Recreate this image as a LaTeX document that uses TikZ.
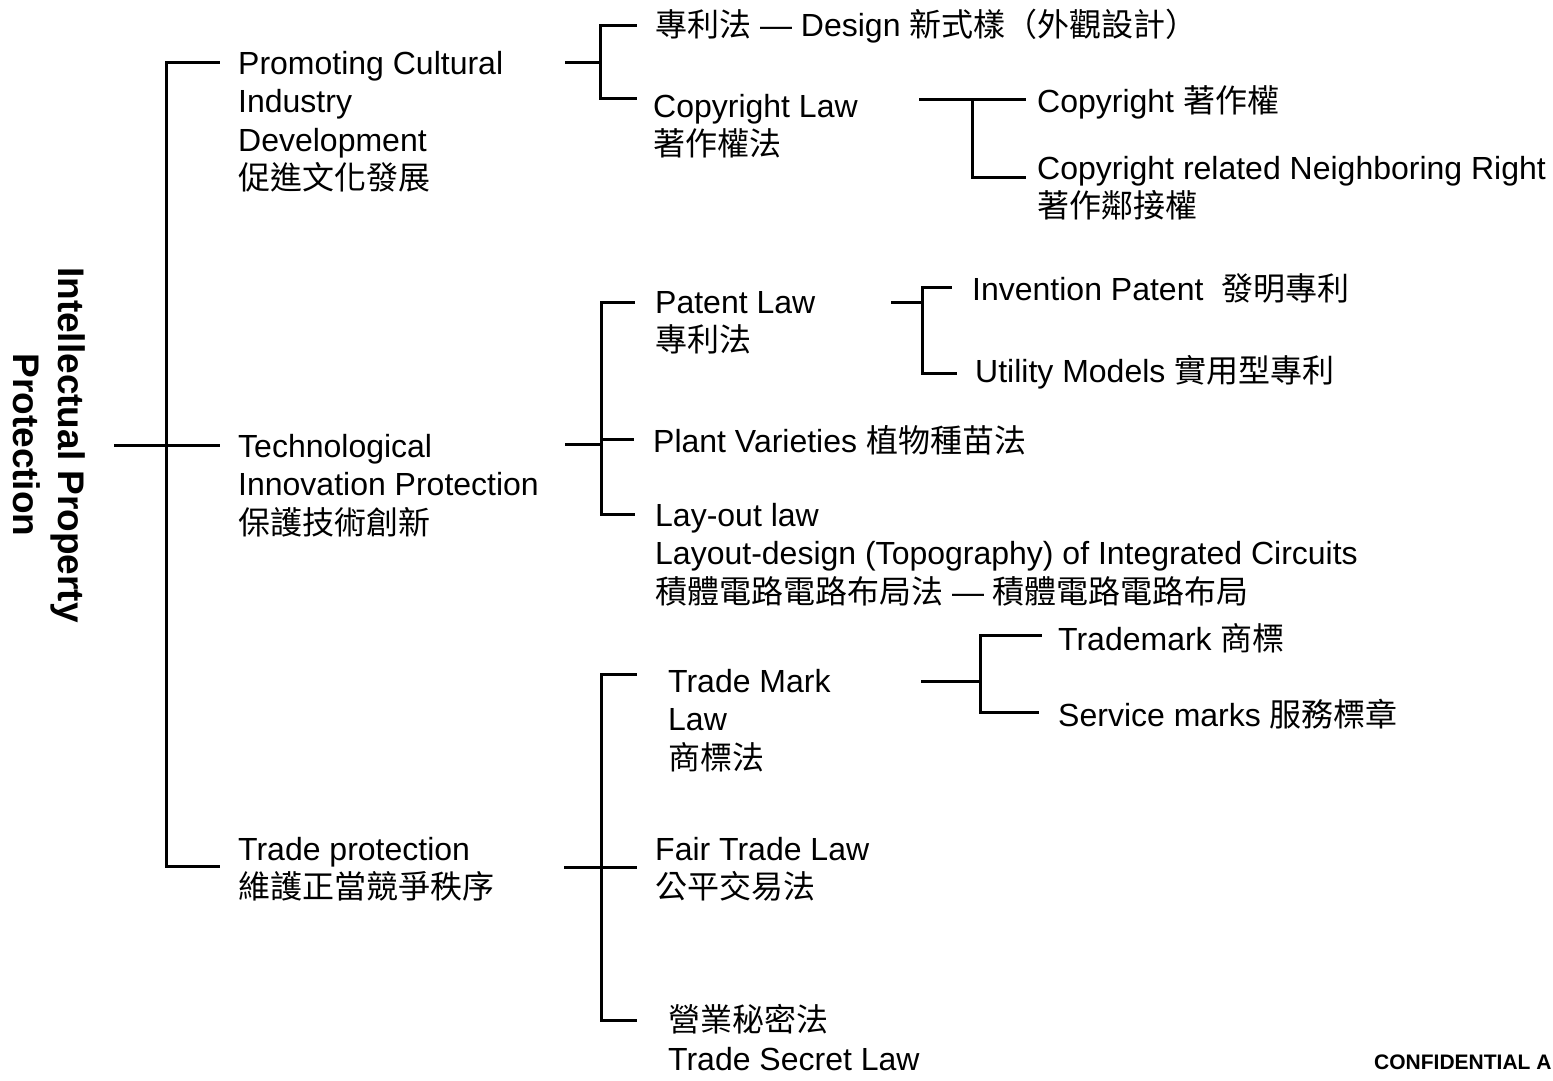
\documentclass[tikz,border=0pt]{standalone}
\usepackage{fontspec}
\setmainfont{Liberation Sans}
\newfontfamily\cjk{Noto Sans CJK TC}
\newcommand{\zh}[1]{{\cjk #1}}
\newcommand{\ml}[1]{\begin{tabular}[t]{@{}l@{}}#1\end{tabular}}
\newcommand{\mlc}[1]{\begin{tabular}[t]{@{}c@{}}#1\end{tabular}}
\begin{document}
\begin{tikzpicture}[x=1pt,y=-1pt,
  lbl/.style={anchor=base west, inner sep=0pt, font=\fontsize{32}{38.5}\selectfont},
  conn/.style={line width=3pt, line cap=rect},
  titletext/.style={rotate=-90, anchor=base, inner sep=0pt, font=\fontsize{37}{45}\selectfont\bfseries},
  foot/.style={anchor=base west, inner sep=0pt, font=\fontsize{21}{25}\selectfont\bfseries}]
\useasboundingbox[fill=white] (0,0) rectangle (1553,1080);

% title
\node[titletext] (title) at (58,445) {\mlc{Intellectual Property\\Protection}};

% level 1
\node[lbl] (n1) at (238,74) {\ml{Promoting Cultural\\Industry\\Development\\\zh{促進文化發展}}};
\node[lbl] (n2) at (238,457) {\ml{Technological\\Innovation Protection\\\zh{保護技術創新}}};
\node[lbl] (n3) at (238,860) {\ml{Trade protection\\\zh{維護正當競爭秩序}}};

% group A
\node[lbl] (a1) at (655,36) {\zh{專利法} — Design \zh{新式樣（外觀設計）}};
\node[lbl] (a2) at (653,117) {\ml{Copyright Law\\\zh{著作權法}}};
\node[lbl] (c1) at (1037,112) {Copyright \zh{著作權}};
\node[lbl] (c2) at (1037,179) {\ml{Copyright related Neighboring Right\\\zh{著作鄰接權}}};

% group B
\node[lbl] (b1) at (655,313) {\ml{Patent Law\\\zh{專利法}}};
\node[lbl] (p1) at (972,300) {Invention Patent\ \ \zh{發明專利}};
\node[lbl] (p2) at (975,382) {Utility Models \zh{實用型專利}};
\node[lbl] (b2) at (653,452) {Plant Varieties \zh{植物種苗法}};
\node[lbl] (b3) at (655,526) {\ml{Lay-out law\\Layout-design (Topography) of Integrated Circuits\\\zh{積體電路電路布局法} — \zh{積體電路電路布局}}};

% group C
\node[lbl] (t1) at (668,692) {\ml{Trade Mark\\Law\\\zh{商標法}}};
\node[lbl] (m1) at (1058,650) {Trademark \zh{商標}};
\node[lbl] (m2) at (1058,726) {Service marks \zh{服務標章}};
\node[lbl] (t2) at (655,860) {\ml{Fair Trade Law\\\zh{公平交易法}}};
\node[lbl] (t3) at (668,1031.5) {\ml{\zh{營業秘密法}\\Trade Secret Law}};

% footer
\node[foot] (conf) at (1374,1069) {CONFIDENTIAL A};

% ---- connector coordinates ----
% root
\coordinate (r-in) at (115,445);
\coordinate (r-a) at (166,62);
\coordinate (r-c) at (166,866);
\coordinate (r-ta) at (218,62);
\coordinate (r-tb) at (218,445);
\coordinate (r-tc) at (218,866);
\draw[conn] (r-ta) -- (r-a) -- (r-c) -- (r-tc);
\draw[conn] (r-in) -- (r-tb);

% group A
\coordinate (A-in) at (566,62);
\coordinate (A-j) at (600,62);
\coordinate (A-a) at (600,25);
\coordinate (A-b) at (600,98);
\coordinate (A-ta) at (635,25);
\coordinate (A-tb) at (635,98);
\draw[conn] (A-in) -- (A-j);
\draw[conn] (A-ta) -- (A-a) -- (A-b) -- (A-tb);

% copyright sub
\coordinate (C-in) at (920,99);
\coordinate (C-j) at (972,99);
\coordinate (C-b) at (972,177);
\coordinate (C-ta) at (1024,99);
\coordinate (C-tb) at (1024,177);
\draw[conn] (C-in) -- (C-ta);
\draw[conn] (C-j) -- (C-b) -- (C-tb);

% group B
\coordinate (B-in) at (566,444);
\coordinate (B-j) at (601,444);
\coordinate (B-a) at (601,302);
\coordinate (B-b) at (601,439);
\coordinate (B-c) at (601,514);
\coordinate (B-ta) at (633,302);
\coordinate (B-tb) at (632,439);
\coordinate (B-tc) at (633,514);
\draw[conn] (B-in) -- (B-j);
\draw[conn] (B-ta) -- (B-a) -- (B-c) -- (B-tc);
\draw[conn] (B-b) -- (B-tb);

% patent sub
\coordinate (P-in) at (892,302);
\coordinate (P-j) at (922,302);
\coordinate (P-a) at (922,287);
\coordinate (P-b) at (922,373);
\coordinate (P-ta) at (950,287);
\coordinate (P-tb) at (955,373);
\draw[conn] (P-in) -- (P-j);
\draw[conn] (P-ta) -- (P-a) -- (P-b) -- (P-tb);

% group C
\coordinate (T-in) at (565,867);
\coordinate (T-a) at (601,674);
\coordinate (T-c) at (601,1020);
\coordinate (T-ta) at (635,674);
\coordinate (T-tb) at (635,867);
\coordinate (T-tc) at (635,1020);
\draw[conn] (T-in) -- (T-tb);
\draw[conn] (T-ta) -- (T-a) -- (T-c) -- (T-tc);

% trademark sub
\coordinate (M-in) at (922,681);
\coordinate (M-j) at (980,681);
\coordinate (M-a) at (980,635);
\coordinate (M-b) at (980,712);
\coordinate (M-ta) at (1040,635);
\coordinate (M-tb) at (1037,712);
\draw[conn] (M-in) -- (M-j);
\draw[conn] (M-ta) -- (M-a) -- (M-b) -- (M-tb);
\end{tikzpicture}
\end{document}
